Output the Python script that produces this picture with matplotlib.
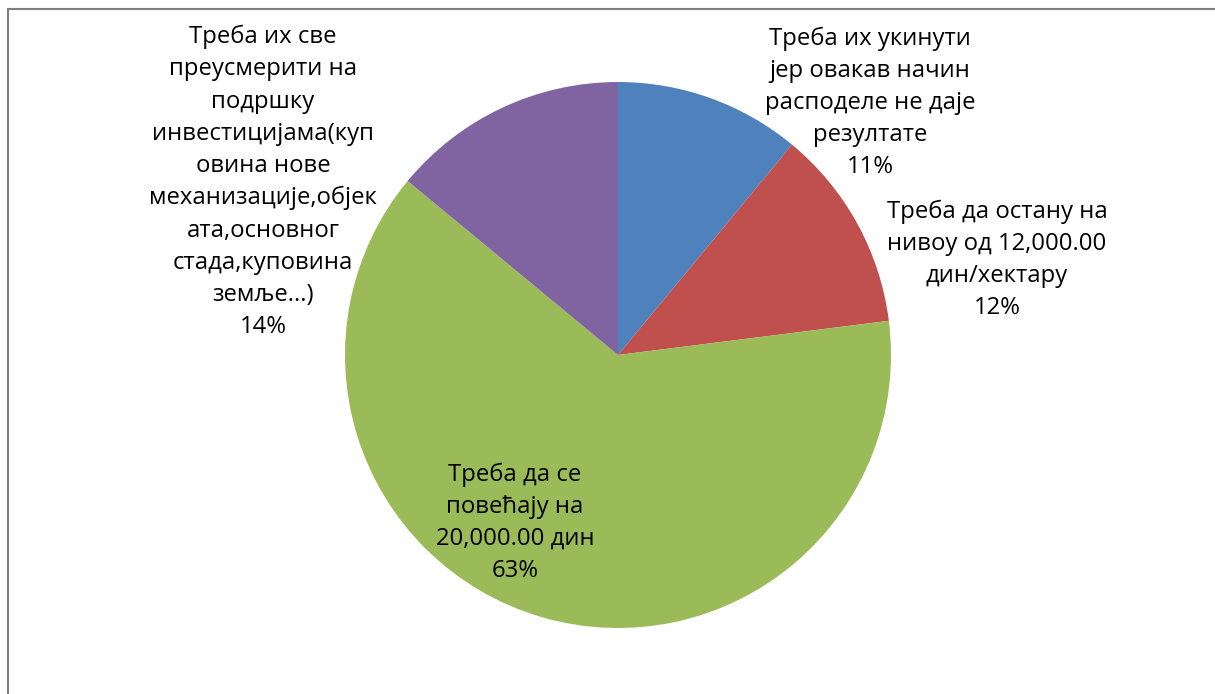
import matplotlib.pyplot as plt
from matplotlib.patches import Rectangle

plt.rcParams["font.family"] = ["Open Sans", "DejaVu Sans"]

LABELS = [
    "Треба их укинути\nјер овакав начин\nрасподеле не даје\nрезултате",
    "Треба да остану на\nнивоу од 12,000.00\nдин/хектару",
    "Треба да се\nповећају на\n20,000.00 дин",
    "Треба их све\nпреусмерити на\nподршку\nинвестицијама(куп\nовина нове\nмеханизације,објек\nата,основног\nстада,куповина\nземље...)",
]
SHARES = [11, 12, 63, 14]
COLORS = ["#4F81BD", "#C0504D", "#9BBB59", "#8064A2"]

# label centres, in units of the pie radius
LABEL_POS = [(0.923, 0.923), (1.388, 0.348), (-0.377, -0.615), (-1.300, 0.634)]

W, H = 1215, 694
fig = plt.figure(figsize=(W / 100, H / 100), dpi=100)

cx, cy, r = 618, 355, 273
ax = fig.add_axes([(cx - r) / W, (H - cy - r) / H, 2 * r / W, 2 * r / H])
ax.pie(SHARES, colors=COLORS, startangle=90, counterclock=False, radius=1,
       wedgeprops=dict(linewidth=0))
ax.set_xlim(-1, 1)
ax.set_ylim(-1, 1)
ax.axis("off")

total = sum(SHARES)
for label, share, (x, y) in zip(LABELS, SHARES, LABEL_POS):
    ax.text(x, y, f"{label}\n{round(100 * share / total)}%", ha="center", va="center",
            fontsize=17.2, linespacing=1.45, color="black", clip_on=False)

# chart frame, cut off at the right and bottom like the reference
fig.patches.append(Rectangle((8 / W, -0.1), 1.2, 1 - 9 / H + 0.1, transform=fig.transFigure,
                             fill=False, edgecolor="#7F7F7F", linewidth=1.5))

fig.savefig("out.png", dpi=100)
